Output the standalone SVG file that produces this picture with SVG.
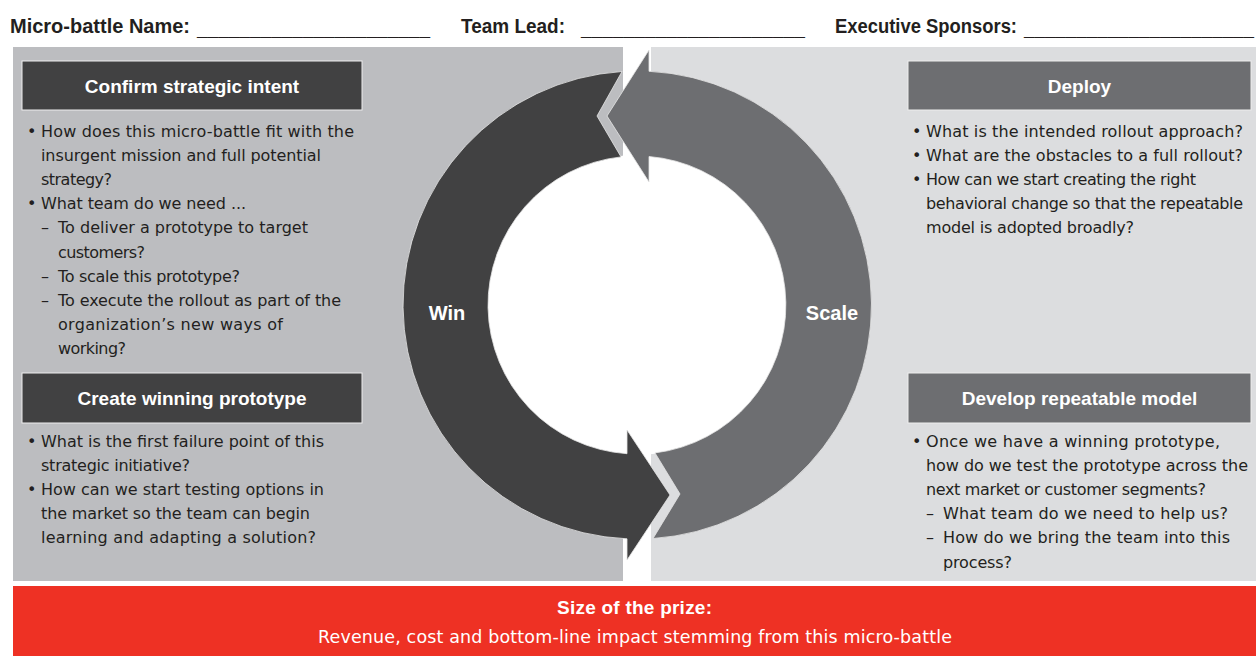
<svg xmlns="http://www.w3.org/2000/svg" width="1256" height="656" viewBox="0 0 1256 656">
  <style>
    .hdr { font-family: "Liberation Sans", Arial, sans-serif; font-weight: bold; font-size: 19.5px; fill: #231f20; }
    .title { font-family: "Liberation Sans", Arial, sans-serif; font-weight: bold; font-size: 19px; fill: #ffffff; text-anchor: middle; }
    .b { font-family: "DejaVu Sans", "Liberation Sans", sans-serif; font-size: 16px; fill: #231f20; }
    .lbl { font-family: "Liberation Sans", Arial, sans-serif; font-weight: bold; font-size: 20px; fill: #ffffff; text-anchor: middle; }
    .boxL { fill: #414142; stroke: #eeeeee; stroke-width: 1; }
    .boxR { fill: #6d6e71; stroke: #eeeeee; stroke-width: 1; }
  </style>
  <rect width="1256" height="656" fill="#ffffff"/>

  <g id="header">
    <text class="hdr" x="10" y="33" textLength="180" lengthAdjust="spacingAndGlyphs">Micro-battle Name:</text>
    <text class="hdr" x="197" y="35" textLength="233" lengthAdjust="spacingAndGlyphs">______________________</text>
    <text class="hdr" x="461" y="33" textLength="104" lengthAdjust="spacingAndGlyphs">Team Lead:</text>
    <text class="hdr" x="581" y="35" textLength="224" lengthAdjust="spacingAndGlyphs">_____________________</text>
    <text class="hdr" x="835" y="33" textLength="182" lengthAdjust="spacingAndGlyphs">Executive Sponsors:</text>
    <text class="hdr" x="1024" y="35" textLength="230" lengthAdjust="spacingAndGlyphs">______________________</text>
  </g>

  <g id="panels">
    <rect x="13" y="47" width="610" height="534" fill="#bcbdc0"/>
    <rect x="651" y="47" width="605" height="534" fill="#dcdddf"/>
    <circle cx="637" cy="305" r="150" fill="#ffffff"/>
  </g>

  <g id="connectors">
    <path id="win-arrow" fill="#414142" stroke="#e6e6e6" stroke-width="0.8"
      d="M622,71.5 A234,234 0 0 0 627,538.8 L627,560 L670,495 L627,430 L627,453.7 A149,149 0 0 1 621,156.9 L597,116 Z"/>
    <path id="scale-arrow" fill="#6d6e71" stroke="#e6e6e6" stroke-width="0.8"
      d="M649,71.3 L649,50 L607,116 L649,182 L649,156.5 A149,149 0 0 1 655,452.9 L680,494 L653,538.5 A234,234 0 0 0 649,71.3 Z"/>
    <text class="lbl" x="447" y="320">Win</text>
    <text class="lbl" x="832" y="320">Scale</text>
  </g>

  <g id="confirm-strategic-intent">
    <rect class="boxL" x="22" y="61" width="340" height="49"/>
    <text class="title" x="192" y="93">Confirm strategic intent</text>
    <text class="b" x="27" y="137">•</text>
    <text class="b" x="41" y="137" textLength="313">How does this micro-battle fit with the</text>
    <text class="b" x="41" y="161.1" textLength="280">insurgent mission and full potential</text>
    <text class="b" x="41" y="185.2" textLength="71">strategy?</text>
    <text class="b" x="27" y="209.3">•</text>
    <text class="b" x="41" y="209.3" textLength="205">What team do we need ...</text>
    <text class="b" x="41" y="233.4">–</text>
    <text class="b" x="58" y="233.4" textLength="250">To deliver a prototype to target</text>
    <text class="b" x="58" y="257.5" textLength="87">customers?</text>
    <text class="b" x="41" y="281.6">–</text>
    <text class="b" x="58" y="281.6" textLength="182">To scale this prototype?</text>
    <text class="b" x="41" y="305.7">–</text>
    <text class="b" x="58" y="305.7" textLength="283">To execute the rollout as part of the</text>
    <text class="b" x="58" y="329.8" textLength="225">organization’s new ways of</text>
    <text class="b" x="58" y="353.9" textLength="68">working?</text>
  </g>

  <g id="create-winning-prototype">
    <rect class="boxL" x="22" y="373" width="340" height="50"/>
    <text class="title" x="192" y="405">Create winning prototype</text>
    <text class="b" x="27" y="447">•</text>
    <text class="b" x="41" y="447" textLength="283">What is the first failure point of this</text>
    <text class="b" x="41" y="471.1" textLength="149">strategic initiative?</text>
    <text class="b" x="27" y="495.2">•</text>
    <text class="b" x="41" y="495.2" textLength="283">How can we start testing options in</text>
    <text class="b" x="41" y="519.3" textLength="269">the market so the team can begin</text>
    <text class="b" x="41" y="543.4" textLength="275">learning and adapting a solution?</text>
  </g>

  <g id="deploy">
    <rect class="boxR" x="908" y="61" width="343" height="49"/>
    <text class="title" x="1079.5" y="93">Deploy</text>
    <text class="b" x="912" y="137">•</text>
    <text class="b" x="926" y="137" textLength="317">What is the intended rollout approach?</text>
    <text class="b" x="912" y="161.1">•</text>
    <text class="b" x="926" y="161.1" textLength="317">What are the obstacles to a full rollout?</text>
    <text class="b" x="912" y="185.2">•</text>
    <text class="b" x="926" y="185.2" textLength="270">How can we start creating the right</text>
    <text class="b" x="926" y="209.3" textLength="317">behavioral change so that the repeatable</text>
    <text class="b" x="926" y="233.4" textLength="208">model is adopted broadly?</text>
  </g>

  <g id="develop-repeatable-model">
    <rect class="boxR" x="908" y="373" width="343" height="50"/>
    <text class="title" x="1079.5" y="405">Develop repeatable model</text>
    <text class="b" x="912" y="447">•</text>
    <text class="b" x="926" y="447" textLength="294">Once we have a winning prototype,</text>
    <text class="b" x="926" y="471.1" textLength="322">how do we test the prototype across the</text>
    <text class="b" x="926" y="495.2" textLength="280">next market or customer segments?</text>
    <text class="b" x="926" y="519.3">–</text>
    <text class="b" x="943" y="519.3" textLength="285">What team do we need to help us?</text>
    <text class="b" x="926" y="543.4">–</text>
    <text class="b" x="943" y="543.4" textLength="287">How do we bring the team into this</text>
    <text class="b" x="943" y="567.5" textLength="69">process?</text>
  </g>

  <g id="size-of-the-prize">
    <rect x="13" y="586" width="1243" height="70" fill="#ee3124"/>
    <text x="634.5" y="614" text-anchor="middle" font-family="Liberation Sans, Arial, sans-serif" font-weight="bold" font-size="19" fill="#ffffff" textLength="155">Size of the prize:</text>
    <text x="318" y="643" font-family="DejaVu Sans, Liberation Sans, sans-serif" font-size="17.5" fill="#ffffff" textLength="634">Revenue, cost and bottom-line impact stemming from this micro-battle</text>
  </g>
</svg>
